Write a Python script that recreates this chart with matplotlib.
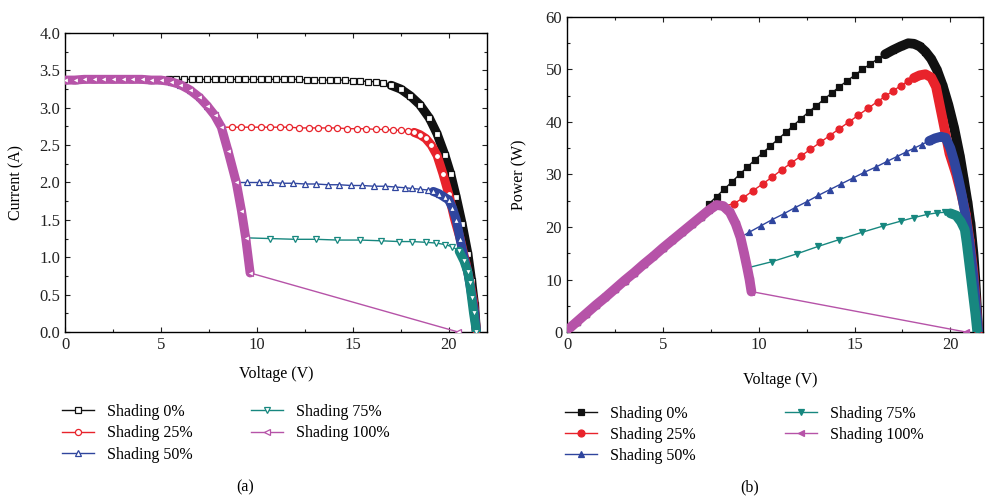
import matplotlib
matplotlib.use("Agg")
import matplotlib.pyplot as plt
from matplotlib.ticker import MultipleLocator, FormatStrFormatter

plt.rcParams['font.family'] = ['Liberation Serif', 'DejaVu Serif']
plt.rcParams['font.size'] = 11.5

LABELS = ['Shading 0%', 'Shading 25%', 'Shading 50%', 'Shading 75%', 'Shading 100%']
COLORS = ['#111111', '#e8232b', '#2f459e', '#17877f', '#b653a8']
MARKERS = ['s', 'o', '^', 'v', '<']

# ---- I-V curves (panel a) ----
# common part shared by all shading levels (starting knee)
iv_knee_v = [0.0, 0.5, 1.0, 1.5, 2.0, 2.5, 3.0, 3.5, 4.0, 4.5, 5.0, 5.5, 6.0, 6.5,
             7.0, 7.4, 7.8, 8.15, 8.5, 8.93, 9.2, 9.42, 9.65]
iv_knee_i = [3.37, 3.37, 3.38, 3.38, 3.38, 3.38, 3.38, 3.38, 3.38, 3.37, 3.37, 3.35, 3.31, 3.24,
             3.14, 3.03, 2.90, 2.74, 2.42, 2.00, 1.62, 1.26, 0.79]
iv_knee_count = [11, 18, 20, 22, 23]

iv_v0 = [5.4, 5.8, 6.2, 6.6, 7.0, 7.4, 7.8, 8.2, 8.6, 9.0, 9.4, 9.8, 10.2, 10.6, 11.0, 11.4,
         11.8, 12.2, 12.6, 13.0, 13.4, 13.8, 14.2, 14.6, 15.0, 15.4, 15.8, 16.2, 16.6, 17.0,
         17.5, 18.0, 18.5, 19.0, 19.4, 19.8, 20.1, 20.4, 20.7, 21.0, 21.2, 21.35, 21.45]
iv_i0 = [3.38, 3.38, 3.38, 3.38, 3.38, 3.38, 3.38, 3.38, 3.38, 3.38, 3.38, 3.38, 3.38, 3.38, 3.38, 3.38,
         3.38, 3.38, 3.37, 3.37, 3.37, 3.37, 3.37, 3.37, 3.36, 3.36, 3.35, 3.35, 3.33, 3.30,
         3.25, 3.16, 3.04, 2.86, 2.65, 2.37, 2.12, 1.80, 1.45, 1.05, 0.68, 0.36, 0.0]

iv_v25 = [8.7, 9.2, 9.7, 10.2, 10.7, 11.2, 11.7, 12.2, 12.7, 13.2, 13.7, 14.2, 14.7, 15.2, 15.7,
          16.2, 16.7, 17.1, 17.5, 17.9, 18.2, 18.5, 18.8, 19.1, 19.4, 19.7, 20.0, 20.3, 20.6,
          20.9, 21.1, 21.3, 21.45]
iv_i25 = [2.74, 2.74, 2.74, 2.74, 2.74, 2.74, 2.74, 2.73, 2.73, 2.73, 2.73, 2.73, 2.72, 2.72, 2.72,
          2.71, 2.71, 2.70, 2.70, 2.69, 2.67, 2.64, 2.59, 2.50, 2.36, 2.12, 1.85, 1.52, 1.25,
          0.92, 0.68, 0.40, 0.0]

iv_v50 = [9.5, 10.1, 10.7, 11.3, 11.9, 12.5, 13.1, 13.7, 14.3, 14.9, 15.5, 16.1, 16.7, 17.2,
          17.7, 18.1, 18.5, 18.9, 19.2, 19.5, 19.8, 20.0, 20.2, 20.4, 20.6, 20.8, 21.0, 21.2,
          21.35, 21.45]
iv_i50 = [2.00, 2.00, 2.00, 1.99, 1.99, 1.98, 1.98, 1.97, 1.97, 1.96, 1.96, 1.95, 1.95, 1.94,
          1.93, 1.92, 1.91, 1.90, 1.88, 1.85, 1.80, 1.77, 1.66, 1.50, 1.24, 1.00, 0.80, 0.50,
          0.26, 0.0]

iv_v75 = [10.7, 12.0, 13.1, 14.2, 15.4, 16.5, 17.4, 18.1, 18.8, 19.35, 19.8, 20.2, 20.55,
          20.8, 21.0, 21.1, 21.2, 21.3, 21.45]
iv_i75 = [1.25, 1.24, 1.24, 1.23, 1.23, 1.22, 1.21, 1.21, 1.20, 1.19, 1.17, 1.14, 1.08,
          0.95, 0.80, 0.65, 0.45, 0.25, 0.0]

iv_v100 = [20.5]
iv_i100 = [0.0]

# ---- P-V curves (panel b) ----
pv_knee_v = [0.0, 0.5, 1.0, 1.5, 2.0, 2.5, 3.0, 3.5, 4.0, 4.5, 5.0, 5.5, 6.0, 6.5, 7.0, 7.4,
             7.8, 8.15, 8.5, 8.8, 9.05, 9.25, 9.4, 9.52, 9.62]
pv_knee_p = [0.3, 1.9, 3.5, 5.1, 6.6, 8.2, 9.8, 11.3, 12.9, 14.4, 16.0, 17.5, 19.0, 20.5, 22.0, 23.2,
             24.2, 24.0, 22.8, 20.6, 18.0, 14.8, 12.2, 10.0, 7.7]
pv_knee_count = [15, 18, 21, 23, 25]

pv_v0 = [7.4, 7.8, 8.2, 8.6, 9.0, 9.4, 9.8, 10.2, 10.6, 11.0, 11.4, 11.8, 12.2, 12.6, 13.0, 13.4,
         13.8, 14.2, 14.6, 15.0, 15.4, 15.8, 16.2, 16.6, 17.0, 17.4, 17.8, 18.1, 18.4, 18.7, 19.0,
         19.3, 19.6, 19.9, 20.2, 20.5, 20.7, 20.9, 21.05, 21.2, 21.3, 21.45]
pv_p0 = [24.4, 25.8, 27.2, 28.6, 30.0, 31.4, 32.8, 34.1, 35.4, 36.7, 38.0, 39.3, 40.6, 41.9, 43.1, 44.3,
         45.5, 46.7, 47.8, 48.9, 50.0, 51.0, 52.0, 52.9, 53.7, 54.4, 55.0, 54.9, 54.4, 53.4, 52.0,
         49.9, 46.9, 43.2, 38.8, 33.4, 29.0, 24.5, 20.5, 15.0, 10.0, 0.0]

pv_v25 = [8.7, 9.2, 9.7, 10.2, 10.7, 11.2, 11.7, 12.2, 12.7, 13.2, 13.7, 14.2, 14.7, 15.2, 15.7,
          16.2, 16.6, 17.0, 17.4, 17.8, 18.1, 18.4, 18.7, 19.0, 19.25, 19.6, 19.95, 20.3, 20.55,
          20.8, 21.0, 21.2, 21.45]
pv_p25 = [24.4, 25.6, 26.9, 28.2, 29.5, 30.9, 32.2, 33.5, 34.8, 36.1, 37.4, 38.7, 40.0, 41.3, 42.6,
          43.9, 44.9, 45.9, 46.9, 47.8, 48.4, 48.9, 49.1, 48.5, 46.7, 40.4, 34.0, 30.0, 26.5,
          22.5, 17.5, 11.5, 0.0]

pv_v50 = [9.5, 10.1, 10.7, 11.3, 11.9, 12.5, 13.1, 13.7, 14.3, 14.9, 15.5, 16.1, 16.7, 17.2, 17.7,
          18.1, 18.5, 18.9, 19.2, 19.5, 19.75, 20.0, 20.2, 20.4, 20.6, 20.8, 21.0, 21.2, 21.45]
pv_p50 = [19.0, 20.2, 21.4, 22.5, 23.7, 24.8, 26.0, 27.1, 28.2, 29.3, 30.4, 31.4, 32.5, 33.4, 34.3,
          35.0, 35.7, 36.4, 36.9, 37.2, 37.0, 35.0, 32.5, 29.5, 26.0, 22.0, 17.0, 10.5, 0.0]

pv_v75 = [10.7, 12.0, 13.1, 14.2, 15.4, 16.5, 17.4, 18.1, 18.8, 19.3, 19.7, 20.0, 20.3, 20.55,
          20.75, 20.85, 21.0, 21.15, 21.3, 21.4]
pv_p75 = [13.4, 14.9, 16.3, 17.6, 19.0, 20.2, 21.1, 21.8, 22.4, 22.7, 22.8, 22.6, 22.2, 21.0,
          19.5, 17.0, 12.5, 8.0, 3.5, 0.0]

pv_v100 = [20.8]
pv_p100 = [0.0]

iv_tails = [(iv_v0, iv_i0), (iv_v25, iv_i25), (iv_v50, iv_i50), (iv_v75, iv_i75), (iv_v100, iv_i100)]
pv_tails = [(pv_v0, pv_p0), (pv_v25, pv_p25), (pv_v50, pv_p50), (pv_v75, pv_p75), (pv_v100, pv_p100)]

# voltage ranges where the markers overlap into a solid band
IV_DENSE = [(16.8, 22), (18.2, 22), (19.0, 22), (20.3, 22), (0, 9.7)]
PV_DENSE = [(16.4, 22), (17.9, 22), (18.8, 22), (19.9, 22), (0, 9.7)]


def draw(ax, knee_v, knee_y, counts, tails, dense, filled, band_lw):
    for k in range(5):
        n = counts[k]
        v = knee_v[:n] + tails[k][0]
        y = knee_y[:n] + tails[k][1]
        lo, hi = dense[k]
        bv = [a for a in v if lo <= a <= hi]
        by = [b for a, b in zip(v, y) if lo <= a <= hi]
        ax.plot(bv, by, color=COLORS[k], lw=band_lw, solid_capstyle='round',
                solid_joinstyle='round', zorder=2 + k)
        ax.plot(v, y, color=COLORS[k], lw=1.0, marker=MARKERS[k],
                ms=4.4 if not filled else 5.0, mew=0.9,
                mfc=COLORS[k] if filled else 'white', mec=COLORS[k],
                label=LABELS[k], zorder=2 + k)


def style(ax):
    ax.tick_params(which='both', direction='in', top=True, right=True,
                   labelsize=12, colors='#222222')
    ax.tick_params(which='major', length=3.5, width=0.8)
    ax.tick_params(which='minor', length=2, width=0.8)
    for s in ax.spines.values():
        s.set_linewidth(1.0)
    ax.xaxis.set_major_locator(MultipleLocator(5))
    ax.xaxis.set_minor_locator(MultipleLocator(2.5))


fig = plt.figure(figsize=(9.85, 4.97), dpi=100)
ax1 = fig.add_axes([65 / 985, 165 / 497, 422 / 985, 299 / 497])
ax2 = fig.add_axes([567 / 985, 165 / 497, 416 / 985, 315 / 497])

draw(ax1, iv_knee_v, iv_knee_i, iv_knee_count, iv_tails, IV_DENSE, False, 6.5)
draw(ax2, pv_knee_v, pv_knee_p, pv_knee_count, pv_tails, PV_DENSE, True, 7.0)

style(ax1)
ax1.set_xlim(0, 22)
ax1.set_ylim(0, 4.0)
ax1.yaxis.set_major_locator(MultipleLocator(0.5))
ax1.yaxis.set_minor_locator(MultipleLocator(0.25))
ax1.yaxis.set_major_formatter(FormatStrFormatter('%.1f'))
ax1.set_xlabel('Voltage (V)')
ax1.set_ylabel('Current (A)')
ax1.xaxis.set_label_coords(0.5, -0.114)
ax1.yaxis.set_label_coords(-0.096, 0.5)

style(ax2)
ax2.set_xlim(0, 21.7)
ax2.set_ylim(0, 60)
ax2.yaxis.set_major_locator(MultipleLocator(10))
ax2.yaxis.set_minor_locator(MultipleLocator(5))
ax2.set_xlabel('Voltage (V)')
ax2.set_ylabel('Power (W)')
ax2.xaxis.set_label_coords(0.512, -0.127)
ax2.yaxis.set_label_coords(-0.096, 0.5)

ax1.legend(loc='upper left', bbox_to_anchor=(62 / 985, 0.188), bbox_transform=fig.transFigure,
           ncol=2, frameon=False, handlelength=2.0, handletextpad=0.8, columnspacing=3.7,
           labelspacing=0.36, borderpad=0, borderaxespad=0, fontsize=11.5)
ax2.legend(loc='upper left', bbox_to_anchor=(565 / 985, 0.183), bbox_transform=fig.transFigure,
           ncol=2, frameon=False, handlelength=2.0, handletextpad=0.8, columnspacing=5.6,
           labelspacing=0.30, borderpad=0, borderaxespad=0, fontsize=11.5)

fig.text(245 / 985, 10 / 497, '(a)', ha='center', va='center', fontsize=11.5)
fig.text(750 / 985, 10 / 497, '(b)', ha='center', va='center', fontsize=11.5)

fig.savefig('out.png', dpi=100)
